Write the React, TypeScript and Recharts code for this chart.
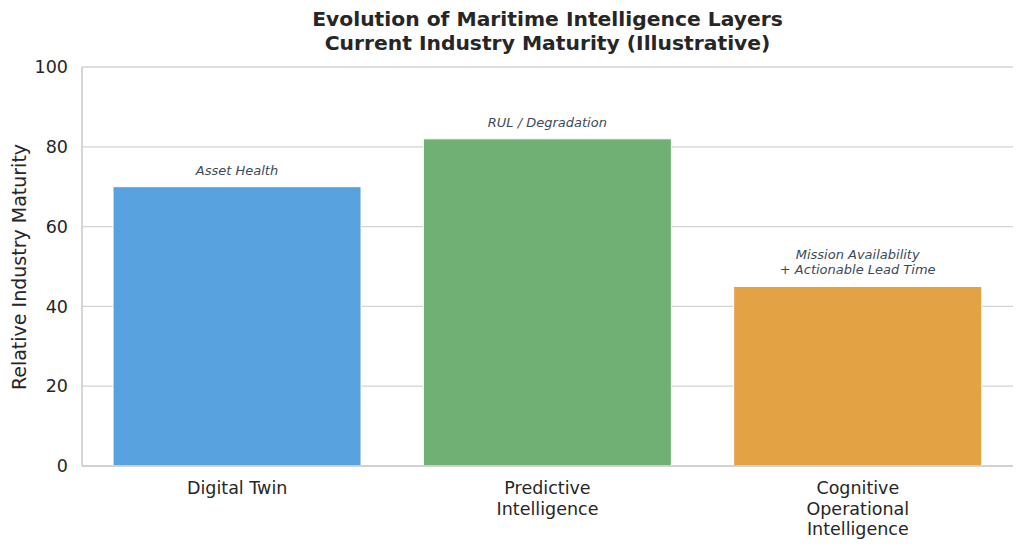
import React from 'react';
import { BarChart, Bar, XAxis, YAxis, CartesianGrid, Cell, LabelList } from 'recharts';

const categories = ['Digital Twin', 'Predictive\nIntelligence', 'Cognitive\nOperational\nIntelligence'];
const maturity = [70, 82, 45];
const notes = ['Asset Health', 'RUL / Degradation', 'Mission Availability\n+ Actionable Lead Time'];
const barColors = ['#58A2DF', '#71B074', '#E3A243'];
const yTicks = [0, 20, 40, 60, 80, 100];

const data = categories.map((c, i) => ({ name: c, value: maturity[i], note: notes[i] }));

const FONT = '"DejaVu Sans", sans-serif';

const XTick = (props: any) => {
  const { x, y, payload } = props;
  const lines = String(payload.value).split('\n');
  return (
    <text x={x} y={y} textAnchor="middle" fill="#262626" fontSize={17.5} fontFamily={FONT}>
      {lines.map((l, i) => (
        <tspan key={i} x={x} dy={i === 0 ? 20 : 20.5}>{l}</tspan>
      ))}
    </text>
  );
};

const NoteLabel = (props: any) => {
  const { x, y, width, value } = props;
  const lines = String(value).split('\n');
  const cx = Number(x) + Number(width) / 2;
  const base = Number(y) - 12;
  return (
    <text textAnchor="middle" fill="#3D4A57" fontSize={13} fontStyle="italic" fontFamily={FONT}>
      {lines.map((l, i) => (
        <tspan key={i} x={cx} y={base - (lines.length - 1 - i) * 15}>{l}</tspan>
      ))}
    </text>
  );
};

export default function App() {
  return (
    <div style={{ position: 'absolute', left: 0, top: 0, width: 1023, height: 549, background: '#fff', fontFamily: FONT }}>
      <div style={{ position: 'absolute', left: 82, width: 931, top: 7, textAlign: 'center', fontWeight: 'bold', fontSize: 20.3, lineHeight: '24px', color: '#262626' }}>
        <div>Evolution of Maritime Intelligence Layers</div>
        <div>Current Industry Maturity (Illustrative)</div>
      </div>
      <div style={{ position: 'absolute', left: 19, top: 267, transform: 'translate(-50%, -50%) rotate(-90deg)', whiteSpace: 'nowrap', fontSize: 19, color: '#262626' }}>
        Relative Industry Maturity
      </div>
      <BarChart width={1023} height={549} data={data} margin={{ top: 67, right: 10, left: 22, bottom: 23 }} barCategoryGap="10%">
        <CartesianGrid vertical={false} stroke="#D3D3D3" strokeWidth={1.3} />
        <XAxis dataKey="name" height={60} tick={<XTick />} tickLine={false} axisLine={{ stroke: '#CCCCCC', strokeWidth: 1.6 }} interval={0} />
        <YAxis width={60} domain={[0, 100]} ticks={yTicks} tickLine={false} tickSize={6} tickMargin={8}
          axisLine={{ stroke: '#CCCCCC', strokeWidth: 1.6 }}
          tick={{ fill: '#262626', fontSize: 17.5, fontFamily: FONT }} />
        <Bar dataKey="value" isAnimationActive={false} stroke="#FFFFFF" strokeWidth={1}>
          {data.map((d, i) => (
            <Cell key={i} fill={barColors[i]} />
          ))}
          <LabelList dataKey="note" content={<NoteLabel />} />
        </Bar>
      </BarChart>
    </div>
  );
}
